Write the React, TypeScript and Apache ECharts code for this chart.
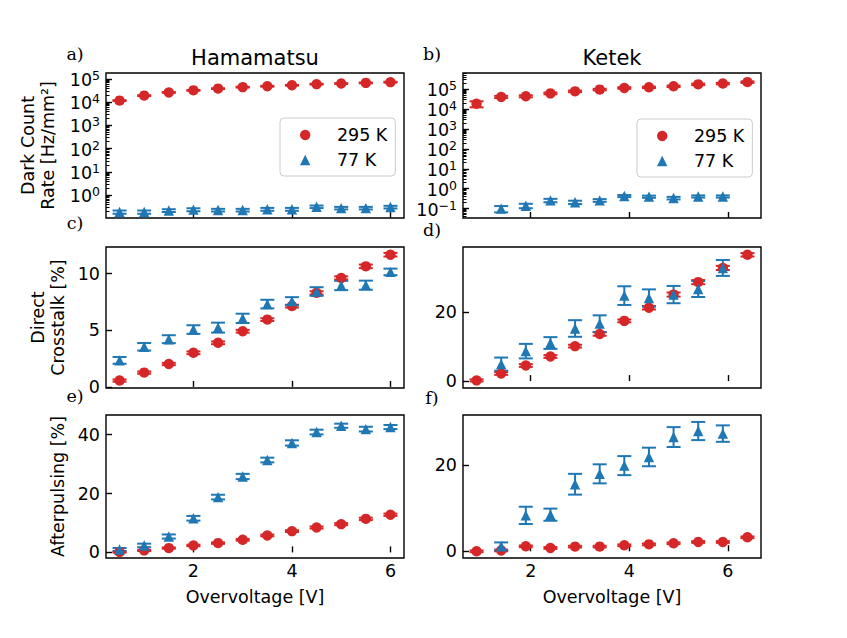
import React, { useEffect, useRef } from 'react';
import * as echarts from 'echarts';

// ---------- data ----------
const hamVoltage = [0.5, 1.0, 1.5, 2.0, 2.5, 3.0, 3.5, 4.0, 4.5, 5.0, 5.5, 6.0];
const ketVoltage295 = [0.9, 1.4, 1.9, 2.4, 2.9, 3.4, 3.9, 4.4, 4.9, 5.4, 5.9, 6.4];
const ketVoltage77 = [1.4, 1.9, 2.4, 2.9, 3.4, 3.9, 4.4, 4.9, 5.4, 5.9];

// a) Hamamatsu dark count rate [Hz/mm2]
const hamDcr295 = [11600, 19000, 26000, 32000, 38000, 44000, 48000, 53000, 59000, 63000, 67000, 72000];
const hamDcr295Err = [500, 800, 1000, 1300, 1500, 1800, 1900, 2100, 2400, 2500, 2700, 2900];
const hamDcr77 = [0.19, 0.19, 0.22, 0.24, 0.23, 0.23, 0.25, 0.25, 0.32, 0.28, 0.28, 0.31];
const hamDcr77Err = [0.03, 0.03, 0.03, 0.035, 0.03, 0.03, 0.035, 0.035, 0.04, 0.035, 0.035, 0.04];

// b) Ketek dark count rate [Hz/mm2]
const ketDcr295 = [18000, 40000, 43000, 60000, 76000, 93000, 112000, 121000, 136000, 170000, 186000, 220000];
const ketDcr295Err = [6000, 5000, 5000, 6000, 7000, 8000, 10000, 10000, 12000, 15000, 16000, 19000];
const ketDcr77 = [0.10, 0.14, 0.26, 0.21, 0.26, 0.43, 0.40, 0.34, 0.41, 0.41];
const ketDcr77Err = [0.035, 0.035, 0.05, 0.04, 0.04, 0.05, 0.05, 0.05, 0.05, 0.05];

// c) Hamamatsu direct crosstalk [%]
const hamCt295 = [0.56, 1.26, 2.02, 3.01, 3.89, 4.91, 5.94, 7.13, 8.30, 9.62, 10.64, 11.67];
const hamCt295Err = [0.1, 0.1, 0.1, 0.12, 0.12, 0.12, 0.12, 0.12, 0.14, 0.14, 0.16, 0.16];
const hamCt77 = [2.34, 3.54, 4.21, 5.06, 5.23, 6.05, 7.31, 7.57, 8.42, 8.95, 8.98, 10.15];
const hamCt77Err = [0.3, 0.33, 0.35, 0.38, 0.44, 0.41, 0.38, 0.35, 0.38, 0.41, 0.4, 0.29];

// d) Ketek direct crosstalk [%]
const ketCt295 = [0.19, 2.2, 4.5, 7.1, 10.1, 13.6, 17.4, 21.2, 25.0, 28.6, 32.7, 36.5];
const ketCt295Err = [0.3, 0.4, 0.4, 0.4, 0.4, 0.5, 0.4, 0.5, 0.6, 0.6, 0.6, 0.5];
const ketCt77 = [4.9, 8.65, 11.0, 15.2, 16.6, 24.7, 24.0, 25.0, 26.6, 32.7];
const ketCt77Err = [1.9, 2.1, 1.7, 2.4, 2.4, 2.7, 2.5, 2.5, 2.3, 2.3];

// e) Hamamatsu afterpulsing [%]
const hamAp295 = [0.11, 0.68, 1.47, 2.37, 3.16, 4.29, 5.76, 7.23, 8.47, 9.6, 11.4, 12.8];
const hamAp295Err = [0.2, 0.2, 0.2, 0.25, 0.25, 0.3, 0.3, 0.3, 0.35, 0.35, 0.4, 0.4];
const hamAp77 = [1.0, 2.37, 5.4, 11.6, 18.8, 25.8, 31.4, 37.2, 40.9, 43.05, 41.9, 42.6];
const hamAp77Err = [0.5, 0.6, 0.7, 0.8, 0.8, 0.9, 0.8, 0.9, 0.8, 0.7, 0.8, 0.7];

// f) Ketek afterpulsing [%]
const ketAp295 = [0.0, 0.2, 1.15, 0.77, 1.08, 1.08, 1.38, 1.6, 1.85, 2.15, 2.15, 3.23];
const ketAp295Err = [0.2, 0.2, 0.2, 0.2, 0.2, 0.2, 0.2, 0.2, 0.2, 0.2, 0.2, 0.2];
const ketAp77 = [1.15, 8.3, 8.46, 15.5, 17.9, 19.8, 21.8, 26.4, 27.8, 27.2];
const ketAp77Err = [0.9, 2.0, 1.4, 2.4, 2.2, 2.2, 2.15, 2.3, 2.1, 1.9];

// tick labels
const xTicks = [2, 4, 6];
const logTicks = [0.1, 1, 10, 100, 1000, 10000, 100000];
const ctHamTicks = [0, 5, 10];
const ctKetTicks = [0, 20];
const apHamTicks = [0, 20, 40];
const apKetTicks = [0, 20];
const seriesNames = ['295 K', '77 K'];
const titles = ['Hamamatsu', 'Ketek'];
const panelLetters = ['a)', 'b)', 'c)', 'd)', 'e)', 'f)'];
const yNames = ['Dark Count\nRate [Hz/mm²]', 'Direct\nCrosstalk [%]', 'Afterpulsing [%]'];
const xName = 'Overvoltage [V]';

// ---------- style ----------
const FONT = 'DejaVu Sans';
const RED = '#d62728';
const BLUE = '#1f77b4';
const FS = 17.5;

const colL = { left: 106, width: 298 };
const colR = { left: 463, width: 298 };
const rows = [
  { top: 73, height: 145 },
  { top: 247, height: 141 },
  { top: 415, height: 143 },
];

const powLabel = (v: number) => {
  const e = Math.round(Math.log10(v));
  return '{b|10}{s|' + String(e).replace('-', '−') + '}';
};

function minorLogTicks(): number[] {
  const out: number[] = [];
  for (let d = -2; d <= 5; d++) {
    for (let k = 2; k <= 9; k++) out.push(k * Math.pow(10, d));
  }
  return out;
}

function errSeries(xs: number[], ys: number[], es: number[], color: string, axis: number) {
  return {
    type: 'custom',
    name: 'err',
    xAxisIndex: axis,
    yAxisIndex: axis,
    clip: false,
    silent: true,
    encode: { x: 0, y: 1 },
    data: xs.map((x, i) => [x, ys[i], es[i]]),
    renderItem: (params: any, api: any) => {
      const x = api.value(0);
      const y = api.value(1);
      const e = api.value(2);
      const top = api.coord([x, y + e]);
      const bot = api.coord([x, y - e]);
      const hw = 7;
      const st = { stroke: color, lineWidth: 2 };
      return {
        type: 'group',
        children: [
          { type: 'line', shape: { x1: top[0], y1: top[1], x2: bot[0], y2: bot[1] }, style: st },
          { type: 'line', shape: { x1: top[0] - hw, y1: top[1], x2: top[0] + hw, y2: top[1] }, style: st },
          { type: 'line', shape: { x1: bot[0] - hw, y1: bot[1], x2: bot[0] + hw, y2: bot[1] }, style: st },
        ],
      };
    },
  };
}

function markSeries(name: string, xs: number[], ys: number[], symbol: string, color: string, axis: number) {
  return {
    type: 'scatter',
    name,
    xAxisIndex: axis,
    yAxisIndex: axis,
    symbol,
    symbolSize: 10.4,
    itemStyle: { color, opacity: 1 },
    data: xs.map((x, i) => [x, ys[i]]),
  };
}

const tickStyle = { inside: true, length: 6, lineStyle: { color: '#000', width: 1.4 } };
const labelStyle = { color: '#000', fontFamily: FONT, fontSize: FS, margin: 6 };
const nameStyle = { color: '#000', fontFamily: FONT, fontSize: FS, lineHeight: 20 };

function buildOption() {
  const grids = rows.flatMap((r) => [
    { ...colL, ...r },
    { ...colR, ...r },
  ]).map((g) => ({
    ...g,
    show: true,
    borderColor: '#000',
    borderWidth: 1.4,
    backgroundColor: 'transparent',
    containLabel: false,
  }));

  const xRanges = [
    [0.225, 6.275],
    [0.625, 6.675],
  ];
  const xAxis = grids.map((_, i) => {
    const bottom = i >= 4;
    const r = xRanges[i % 2];
    return {
      type: 'value',
      gridIndex: i,
      min: r[0],
      max: r[1],
      axisLine: { show: false },
      splitLine: { show: false },
      axisTick: { ...tickStyle, customValues: xTicks },
      axisLabel: { ...labelStyle, margin: 4, show: bottom, customValues: xTicks },
      name: bottom ? xName : '',
      nameLocation: 'middle',
      nameGap: 29,
      nameTextStyle: nameStyle,
    };
  });

  const yCfg: any[] = [
    { log: true, min: 0.105, max: 178000, ticks: logTicks, name: yNames[0], gap: 48 },
    { log: true, min: 0.034, max: 630000, ticks: logTicks, name: '', gap: 48 },
    { log: false, min: -0.1, max: 12.35, ticks: ctHamTicks, name: yNames[1], gap: 38 },
    { log: false, min: -2.0, max: 38.75, ticks: ctKetTicks, name: '', gap: 38 },
    { log: false, min: -1.9, max: 46.7, ticks: apHamTicks, name: yNames[2], gap: 38 },
    { log: false, min: -1.55, max: 31.5, ticks: apKetTicks, name: '', gap: 38 },
  ];
  const yAxis: any[] = yCfg.map((c, i) => ({
    type: c.log ? 'log' : 'value',
    logBase: 10,
    gridIndex: i,
    min: c.min,
    max: c.max,
    position: 'left',
    axisLine: { show: false },
    splitLine: { show: false },
    axisTick: { ...tickStyle, customValues: c.ticks },
    axisLabel: {
      ...labelStyle,
      customValues: c.ticks,
      formatter: c.log ? (v: number) => powLabel(v) : (v: number) => String(v),
      rich: c.log
        ? {
            b: { fontFamily: FONT, fontSize: FS, color: '#000', lineHeight: 20, verticalAlign: 'bottom' },
            s: { fontFamily: FONT, fontSize: 12.5, color: '#000', lineHeight: 10, verticalAlign: 'top' },
          }
        : undefined,
    },
    name: c.name,
    nameLocation: 'middle',
    nameGap: c.gap,
    nameTextStyle: nameStyle,
  }));
  // minor ticks of the log axes (2..9 × 10^n)
  const minors = minorLogTicks();
  [0, 1].forEach((gi) => {
    yAxis.push({
      type: 'log',
      logBase: 10,
      gridIndex: gi,
      min: yCfg[gi].min,
      max: yCfg[gi].max,
      position: 'left',
      axisLine: { show: false },
      splitLine: { show: false },
      axisLabel: { show: false },
      axisTick: { inside: true, length: 3.5, lineStyle: { color: '#000', width: 1 }, customValues: minors },
    });
  });

  const panels = [
    { x295: hamVoltage, y295: hamDcr295, e295: hamDcr295Err, x77: hamVoltage, y77: hamDcr77, e77: hamDcr77Err },
    { x295: ketVoltage295, y295: ketDcr295, e295: ketDcr295Err, x77: ketVoltage77, y77: ketDcr77, e77: ketDcr77Err },
    { x295: hamVoltage, y295: hamCt295, e295: hamCt295Err, x77: hamVoltage, y77: hamCt77, e77: hamCt77Err },
    { x295: ketVoltage295, y295: ketCt295, e295: ketCt295Err, x77: ketVoltage77, y77: ketCt77, e77: ketCt77Err },
    { x295: hamVoltage, y295: hamAp295, e295: hamAp295Err, x77: hamVoltage, y77: hamAp77, e77: hamAp77Err },
    { x295: ketVoltage295, y295: ketAp295, e295: ketAp295Err, x77: ketVoltage77, y77: ketAp77, e77: ketAp77Err },
  ];
  const series: any[] = [];
  panels.forEach((p, i) => {
    series.push(errSeries(p.x295, p.y295, p.e295, RED, i));
    series.push(markSeries(seriesNames[0], p.x295, p.y295, 'circle', RED, i));
    series.push(errSeries(p.x77, p.y77, p.e77, BLUE, i));
    series.push(markSeries(seriesNames[1], p.x77, p.y77, 'triangle', BLUE, i));
  });

  const legendBase = {
    orient: 'vertical',
    selectedMode: false,
    data: [
      { name: seriesNames[0], icon: 'circle' },
      { name: seriesNames[1], icon: 'triangle' },
    ],
    itemWidth: 10.4,
    itemHeight: 10.4,
    itemGap: 5,
    padding: [7, 8, 6, 20],
    backgroundColor: 'rgba(255,255,255,0.8)',
    borderColor: '#cccccc',
    borderWidth: 1,
    borderRadius: 4,
    textStyle: { color: '#000', fontFamily: FONT, fontSize: FS, lineHeight: 20, padding: [0, 0, 0, 21.5] },
  };
  const legend = [
    { ...legendBase, left: 280, top: 118 },
    { ...legendBase, left: 637, top: 119 },
  ];

  const letterPos = [
    [75, 54], [432, 54],
    [75, 223], [432, 230],
    [75, 396], [432, 398],
  ];
  const graphic: any[] = [];
  titles.forEach((t, i) => {
    const g = i === 0 ? colL : colR;
    graphic.push({
      type: 'text',
      x: g.left + g.width / 2,
      y: 58,
      style: { text: t, fill: '#000', font: `21px ${FONT}`, textAlign: 'center', textVerticalAlign: 'middle' },
    });
  });
  panelLetters.forEach((t, i) => {
    graphic.push({
      type: 'text',
      x: letterPos[i][0],
      y: letterPos[i][1],
      style: { text: t, fill: '#000', font: `17.5px "DejaVu Serif"`, textAlign: 'center', textVerticalAlign: 'middle' },
    });
  });

  return {
    animation: false,
    backgroundColor: '#ffffff',
    grid: grids,
    xAxis,
    yAxis,
    legend,
    series,
    graphic,
  };
}

export default function App() {
  const ref = useRef<HTMLDivElement>(null);
  useEffect(() => {
    if (!ref.current) return;
    const chart = echarts.init(ref.current, null, { renderer: 'svg' });
    chart.setOption(buildOption() as any);
    return () => chart.dispose();
  }, []);
  return <div ref={ref} style={{ position: 'fixed', left: 0, top: 0, width: 847, height: 638 }} />;
}
